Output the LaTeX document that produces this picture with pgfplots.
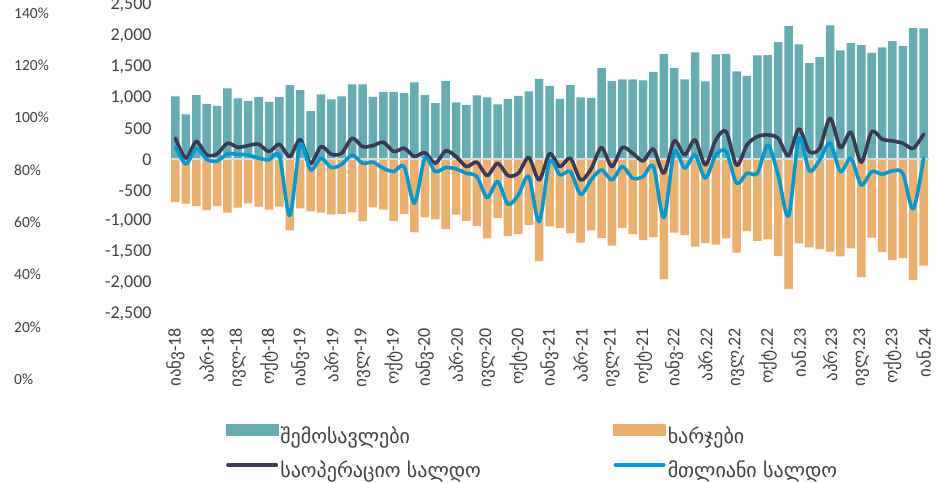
\documentclass[border=0pt]{standalone}
\usepackage{pgfplots}
\pgfplotsset{compat=1.18}
\usepackage{pgfplotstable}
\usepackage{fontspec}
\setmainfont{Carlito}
\newfontfamily\geo{DejaVu Sans}
\definecolor{rev}{RGB}{100,174,179}
\definecolor{exp}{RGB}{237,175,108}
\definecolor{opb}{RGB}{58,58,86}
\definecolor{totb}{RGB}{0,155,210}
\definecolor{txt}{RGB}{64,64,64}
\definecolor{zl}{RGB}{217,217,217}
\newcommand{\xl}[2]{{\geo\fontsize{17bp}{18bp}\selectfont #1}#2}
\newcommand{\legt}[1]{\rule[-5bp]{0pt}{20bp}{\geo\fontsize{20bp}{22bp}\selectfont #1}}
\pgfplotstableread{
i R E O T
0 1020 -692 343 206
1 729 -718 19 -75
2 1042 -756 289 175
3 901 -821 73 0
4 868 -756 89 -26
5 1150 -864 262 90
6 988 -783 197 82
7 949 -713 224 72
8 1009 -767 246 18
9 933 -815 127 -5
10 1009 -767 246 55
11 1204 -1150 46 -910
12 1123 -794 320 245
13 782 -842 -65 -170
14 1053 -864 208 19
15 972 -891 84 -132
16 1020 -886 100 -78
17 1215 -859 343 70
18 1215 -999 208 -62
19 1015 -778 224 -46
20 1095 -815 278 -143
21 1095 -994 127 -197
22 1074 -886 181 -116
23 1247 -1183 46 -710
24 1047 -940 111 19
25 912 -972 -62 -197
26 1268 -1129 138 -132
27 923 -896 46 -154
28 880 -994 -116 -224
29 1037 -1080 -46 -278
30 1004 -1280 -262 -618
31 891 -950 -62 -359
32 982 -1242 -262 -726
33 1031 -1210 -224 -575
34 1101 -1064 30 -278
35 1306 -1647 -332 -1008
36 1187 -1085 90 -35
37 982 -1113 -116 -251
38 1204 -1199 19 -197
39 1004 -1350 -332 -564
40 998 -1150 -154 -332
41 1479 -1274 192 -170
42 1268 -1398 -116 -332
43 1296 -1113 192 -116
44 1296 -1210 100 -305
45 1280 -1307 -24 -278
46 1419 -1258 165 -116
47 1711 -1939 -224 -942
48 1484 -1188 300 127
49 1296 -1226 73 -143
50 1733 -1415 316 73
51 1264 -1356 -89 -305
52 1701 -1382 316 73
53 1711 -1280 451 127
54 1426 -1512 -95 -386
55 1354 -1161 235 -224
56 1685 -1318 370 -224
57 1690 -1296 397 235
58 1900 -1566 343 -251
59 2159 -2101 62 -916
60 1863 -1361 494 343
61 1560 -1426 127 -186
62 1657 -1453 181 -8
63 2171 -1495 667 262
64 1766 -1571 192 -197
65 1884 -1442 440 19
66 1852 -1906 -46 -413
67 1727 -1269 451 -197
68 1814 -1501 327 -240
69 1916 -1631 300 -186
70 1835 -1598 262 -224
71 2127 -1955 181 -802
72 2122 -1722 408 19
}\data
\begin{document}
\begin{tikzpicture}
\path[use as bounding box] (0,0) rectangle (947bp,-483bp);
\begin{axis}[at={(14bp,-379.5bp)}, anchor=south west, scale only axis,
  width=10bp, height=366.7bp, xmin=0, xmax=1, ymin=0, ymax=140,
  xtick=\empty, ytick={0,20,...,140},
  yticklabels={0\%,20\%,40\%,60\%,80\%,100\%,120\%,140\%},
  axis line style={draw=none}, tick style={draw=none},
  yticklabel style={anchor=west, inner sep=0pt, font=\fontsize{15.5bp}{17bp}\selectfont, text=txt}]
\end{axis}
\begin{axis}[at={(170.3bp,-313.7bp)}, anchor=south west, scale only axis,
  width=758.5bp, height=308.6bp,
  xmin=-0.5, xmax=72.5, ymin=-2500, ymax=2500,
  axis line style={draw=none}, tick style={draw=none},
  ytick={-2500,-2000,...,2500},
  yticklabels={{-2,500},{-2,000},{-1,500},{-1,000},-500,0,500,{1,000},{1,500},{2,000},{2,500}},
  xtick={0,3,...,72},
  xticklabels={\xl{იანვ}{-18},\xl{აპრ}{-18},\xl{ივლ}{-18},\xl{ოქტ}{-18},
    \xl{იანვ}{-19},\xl{აპრ}{-19},\xl{ივლ}{-19},\xl{ოქტ}{-19},
    \xl{იანვ}{-20},\xl{აპრ}{-20},\xl{ივლ}{-20},\xl{ოქტ}{-20},
    \xl{იანვ}{-21},\xl{აპრ}{-21},\xl{ივლ}{-21},\xl{ოქტ}{-21},
    \xl{იანვ}{-22},\xl{აპრ}{.22},\xl{ივლ}{.22},\xl{ოქტ}{.22},
    \xl{იან}{.23},\xl{აპრ}{.23},\xl{ივლ}{.23},\xl{ოქტ}{.23},\xl{იან}{.24}},
  yticklabel style={anchor=east, inner sep=0pt, xshift=-18.5bp, font=\fontsize{18bp}{20bp}\selectfont, text=txt},
  xticklabel style={yshift=-14bp, rotate=90, anchor=east, inner sep=0pt, font=\fontsize{18bp}{20bp}\selectfont, text=txt},
  legend columns=2,
  legend cell align=left,
  legend style={at={(axis description cs:0.0734,-0.3584)}, anchor=north west,
    draw=none, fill=none, inner sep=0pt, outer sep=0pt,
    nodes={inner sep=0pt, text=txt}, column sep=2bp, row sep=16bp},
  clip=false]
\addplot[ybar, bar width=8.5bp, bar shift=0pt, fill=rev, draw=none, forget plot] table[x=i,y=R]{\data};
\addplot[ybar, bar width=8.5bp, bar shift=0pt, fill=exp, draw=none, forget plot] table[x=i,y=E]{\data};
\addplot[zl, line width=2bp, forget plot] coordinates {(-0.5,0) (72.5,0)};
\addplot[opb, line width=3.6bp, smooth, line cap=round, line join=round, forget plot] table[x=i,y=O]{\data};
\addplot[totb, line width=3.6bp, smooth, line cap=round, line join=round, forget plot] table[x=i,y=T]{\data};
\addlegendimage{legend image code/.code={\fill[rev] (0bp,0.6bp) rectangle (52bp,11.3bp);}}
\addlegendentry{\makebox[331bp][l]{\legt{შემოსავლები}}}
\addlegendimage{legend image code/.code={\fill[exp] (0bp,0.6bp) rectangle (52bp,11.3bp);}}
\addlegendentry{\legt{ხარჯები}}
\addlegendimage{legend image code/.code={\draw[opb, line width=3.6bp, line cap=round] (1.8bp,5bp) -- (50.2bp,5bp);}}
\addlegendentry{\makebox[331bp][l]{\legt{საოპერაციო სალდო}}}
\addlegendimage{legend image code/.code={\draw[totb, line width=3.6bp, line cap=round] (1.8bp,5bp) -- (50.2bp,5bp);}}
\addlegendentry{\legt{მთლიანი სალდო}}
\end{axis}
\end{tikzpicture}
\end{document}
